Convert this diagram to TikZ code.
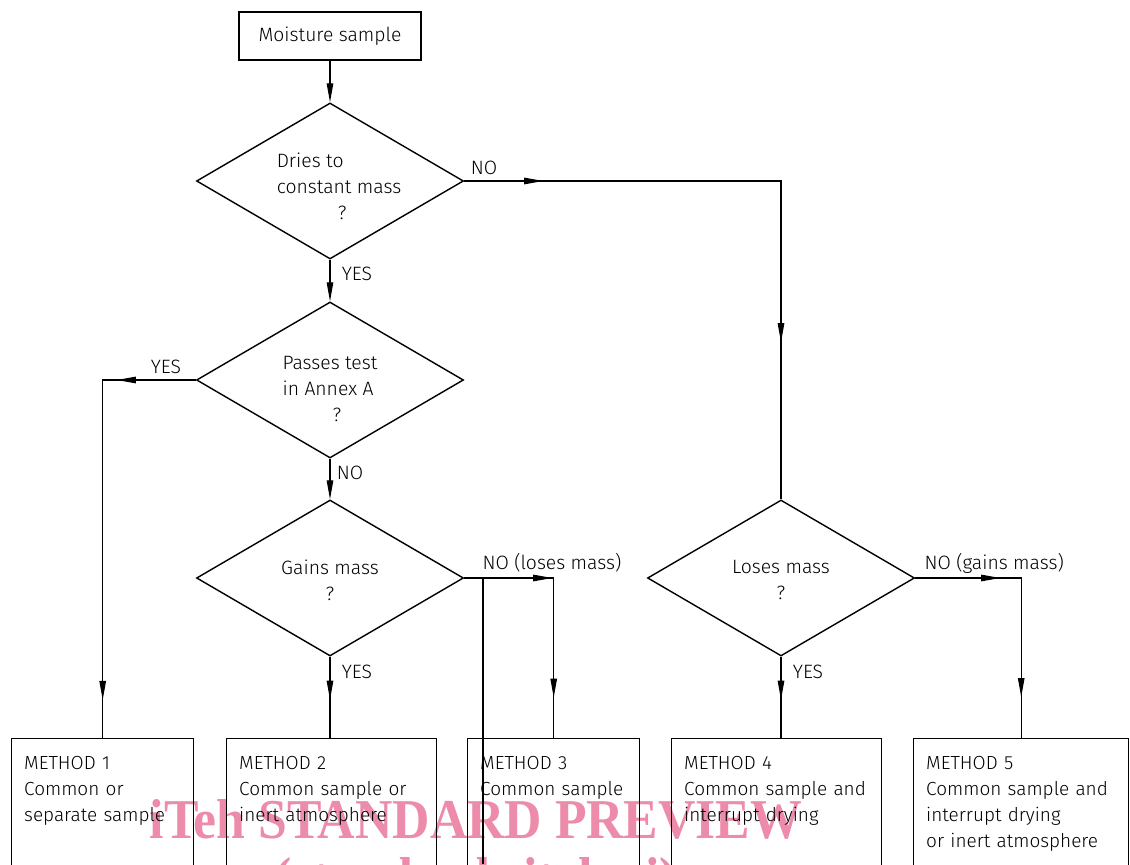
\documentclass[tikz,border=0pt]{standalone}
\usepackage{fontspec}
\setmainfont{Fira Sans}[UprightFont={* Light}]
\newfontfamily\wmfont{Liberation Serif}[FakeStretch=0.92]
\usepackage{tikz}
\usetikzlibrary{arrows.meta,shapes.geometric,decorations.markings}
\definecolor{wmpink}{RGB}{236,140,170}

\begin{document}
\begin{tikzpicture}[>={Triangle[length=0.38cm,width=0.13cm]}, line width=0.6pt,
  font=\fontsize{11pt}{14.7pt}\selectfont,
  box/.style={draw, line width=0.8pt, minimum width=3.64cm, minimum height=0.96cm, inner sep=0pt},
  dec/.style={draw, diamond, aspect=1.71, inner sep=0pt, minimum width=5.34cm, minimum height=3.12cm, line width=0.8pt},
  dectext/.style={align=#1, inner sep=0pt},
  method/.style={draw, line width=0.8pt, anchor=north west, align=left, text width=#1, inner xsep=0.25cm, inner ysep=0.35cm, text height=0.27cm, text depth=2.6cm, font=\fontsize{10.8pt}{14.7pt}\selectfont},
  tipat/.style={postaction={decorate, decoration={markings, mark=at position #1 with {\arrow{>}}}}},
  tipsat/.style 2 args={postaction={decorate, decoration={markings, mark=at position #1 with {\arrow{>}}, mark=at position #2 with {\arrow{>}}}}},
  wmark/.style={anchor=base, text=wmpink, font=\wmfont\bfseries\fontsize{32pt}{32pt}\selectfont}]
\useasboundingbox (0, 0) rectangle (22.6, 17.28);

\node (wm1) at (9.52, 0.52) [wmark] {iTeh STANDARD PREVIEW};
\node (wm2) at (9.52, -0.65) [wmark] {(standards.iteh.ai)};

\node (start) at (6.6, 16.56) [box] {Moisture sample};
\node (d1) at (6.6, 13.66) [dec, label={[dectext=left, xshift=0.18cm, yshift=-0.1cm]center:{Dries to\\constant mass\\\hspace*{1.22cm}?}}] {};
\node (d2) at (6.6, 9.68) [dec, label={[dectext=left, yshift=-0.18cm]center:{Passes test\\in Annex A\\\hspace*{1.0cm}?}}] {};
\node (d3) at (6.6, 5.72) [dec, label={[dectext=center, yshift=-0.04cm]center:{Gains mass\\?}}] {};
\node (d4) at (15.62, 5.72) [dec, label={[dectext=center, yshift=-0.04cm]center:{Loses mass\\?}}] {};

\node (m1) at (0.22, 2.52) [method=3.14cm] {METHOD 1\\Common or\\separate sample};
\node (m2) at (4.52, 2.52) [method=3.7cm] {METHOD 2\\Common sample or\\inert atmosphere};
\node (m3) at (9.34, 2.52) [method=2.94cm] {METHOD 3\\Common sample};
\node (m4) at (13.42, 2.52) [method=3.7cm] {METHOD 4\\Common sample and\\interrupt drying};
\node (m5) at (18.26, 2.52) [method=3.8cm] {METHOD 5\\Common sample and\\interrupt drying\\or inert atmosphere};

\draw[->] (start) -- (d1);
\draw[->] (d1) -- (d2);
\draw[->] (d2) -- (d3);
\draw[tipsat={1.58cm}{9.56cm}] (d1.east) -| (d4.north);
\draw[tipsat={1.58cm}{8.26cm}] (d2.west) -| (m1.north);
\draw[tipat=0.86cm] (d3.south) -- (d3.south |- m2.north);
\draw[tipsat={1.76cm}{4.18cm}] (d3.east) -| (m3.north);
\draw[tipat=0.86cm] (d4.south) -- (d4.south |- m4.north);
\draw[tipsat={1.7cm}{4.5cm}] (d4.east) -| (m5.north);
\coordinate (s1) at (9.66, 5.72);
\coordinate (s2) at (9.66, 0);
\draw (s1) -- (s2);

\node (no1) at (9.68, 13.92) [] {NO};
\node (yes1) at (7.14, 11.8) [] {YES};
\node (yes2) at (3.32, 9.94) [] {YES};
\node (no2) at (7.0, 7.82) [] {NO};
\node (no3) at (9.64, 6.02) [anchor=west, inner sep=0pt] {NO (loses mass)};
\node (yes3) at (7.14, 3.84) [] {YES};
\node (no4) at (18.48, 6.02) [anchor=west, inner sep=0pt] {NO (gains mass)};
\node (yes4) at (16.16, 3.84) [] {YES};
\end{tikzpicture}
\end{document}
